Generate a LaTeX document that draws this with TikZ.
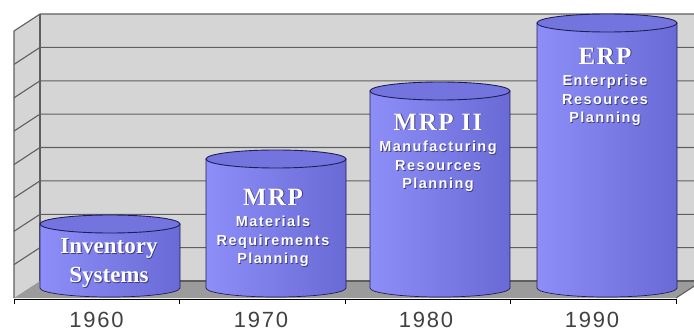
\documentclass[tikz,border=0pt]{standalone}
\usepackage{fontspec}
\setmainfont{Liberation Serif}
\setsansfont{Liberation Sans}
\usetikzlibrary{positioning}
\definecolor{wallgray}{RGB}{213,213,213}
\definecolor{floorgray}{RGB}{155,155,155}
\definecolor{gridgray}{RGB}{95,95,95}
\definecolor{barlight}{RGB}{142,142,248}
\definecolor{barmid}{RGB}{128,128,238}
\definecolor{bardark}{RGB}{106,106,214}
\definecolor{topblue}{RGB}{116,116,222}
\definecolor{barline}{RGB}{30,30,90}
\definecolor{textshadow}{RGB}{60,60,130}
\definecolor{yeargray}{RGB}{65,65,65}
\newcommand{\shd}[1]{\leavevmode\rlap{\kern0.9pt\raisebox{-0.9pt}{\color{textshadow}#1}}#1}
\tikzset{
	wall/.style={fill=wallgray},
	gridline/.style={draw=gridgray,line width=1.1pt},
	barbody/.style={left color=barlight,middle color=barmid,right color=bardark,draw=barline,line width=0.7pt},
	bartopface/.style={fill=topblue,draw=barline,line width=0.9pt},
	bartitle/.style={text=white,inner sep=0pt,anchor=base,font=\rmfamily\bfseries\fontsize{25}{26}\selectfont\addfontfeatures{LetterSpace=6}},
	barsub/.style={text=white,inner sep=0pt,align=center,font=\sffamily\bfseries\fontsize{14.5}{18.5}\selectfont\addfontfeatures{LetterSpace=10}},
	yearlabel/.style={text=yeargray,inner sep=0pt,anchor=base,font=\sffamily\fontsize{22}{24}\selectfont\addfontfeatures{LetterSpace=8}}
}

\begin{document}
\begin{tikzpicture}[x=1pt,y=-1pt]
		\useasboundingbox (0,0) rectangle (694,332);
		\clip (0,0) rectangle (694,332);
		
		% walls and floor
		\fill[wall] (40,14) rectangle (702,281);
		\fill[wall] (14,31) -- (40,14) -- (40,281) -- (14,298) -- cycle;
		\fill[floorgray] (14,298) -- (40,281) -- (702,281) -- (676,298) -- cycle;
		\draw[gridline] (14,298) -- (14,31) -- (40,14) -- (702,14);
		\draw[gridline] (40,14) -- (40,281);
		\draw[gridline] (14,64.4) -- (40,47.4) -- (702,47.4);
		\draw[gridline] (14,97.8) -- (40,80.8) -- (702,80.8);
		\draw[gridline] (14,131.1) -- (40,114.1) -- (702,114.1);
		\draw[gridline] (14,164.5) -- (40,147.5) -- (702,147.5);
		\draw[gridline] (14,197.9) -- (40,180.9) -- (702,180.9);
		\draw[gridline] (14,231.3) -- (40,214.3) -- (702,214.3);
		\draw[gridline] (14,264.6) -- (40,247.6) -- (702,247.6);
		\draw[gridline] (40,281) -- (702,281);
		\draw[gridline] (676,298) -- (702,281);
		
		% axis
		\draw[line width=1pt] (14,299) -- (676,299);
		\draw[line width=0.8pt] (14,299) -- (14,304);
		\draw[line width=0.8pt] (179.5,299) -- (179.5,304);
		\draw[line width=0.8pt] (345,299) -- (345,304);
		\draw[line width=0.8pt] (510.5,299) -- (510.5,304);
		\draw[line width=0.8pt] (676,299) -- (676,304);
		
		% cylinders
		\draw[barbody] (40,224) -- (40,288) arc[start angle=180,end angle=360,x radius=70pt,y radius=9pt] -- (180,224) -- cycle;
		\draw[bartopface] (110,224) ellipse[x radius=70pt,y radius=9pt];
		\draw[barbody] (206,159) -- (206,288) arc[start angle=180,end angle=360,x radius=70pt,y radius=9pt] -- (346,159) -- cycle;
		\draw[bartopface] (276,159) ellipse[x radius=70pt,y radius=9pt];
		\draw[barbody] (370,91) -- (370,288) arc[start angle=180,end angle=360,x radius=70pt,y radius=9pt] -- (510,91) -- cycle;
		\draw[bartopface] (440,91) ellipse[x radius=70pt,y radius=9pt];
		\draw[barbody] (537,23) -- (537,288) arc[start angle=180,end angle=360,x radius=70pt,y radius=9pt] -- (677,23) -- cycle;
		\draw[bartopface] (607,23) ellipse[x radius=70pt,y radius=9pt];
		
		% labels
		\node[bartitle,anchor=north,align=center,font=\rmfamily\bfseries\fontsize{23}{29}\selectfont] (inv) at (109,238) {\shd{Inventory}\\\shd{Systems}};
		\node[bartitle] (mrp) at (273,205) {\shd{MRP}};
		\node[barsub,below=10pt of mrp] (mrpsub) {\shd{Materials}\\\shd{Requirements}\\\shd{Planning}};
		\node[bartitle] (mrpii) at (438,130) {\shd{MRP II}};
		\node[barsub,below=10pt of mrpii] (mrpiisub) {\shd{Manufacturing}\\\shd{Resources}\\\shd{Planning}};
		\node[bartitle] (erp) at (605,64) {\shd{ERP}};
		\node[barsub,below=10pt of erp] (erpsub) {\shd{Enterprise}\\\shd{Resources}\\\shd{Planning}};
		
		\node[yearlabel] (y1960) at (96.5,327) {1960};
		\node[yearlabel] (y1970) at (261,327) {1970};
		\node[yearlabel] (y1980) at (426,327) {1980};
		\node[yearlabel] (y1990) at (592,327) {1990};
\end{tikzpicture}
\end{document}
